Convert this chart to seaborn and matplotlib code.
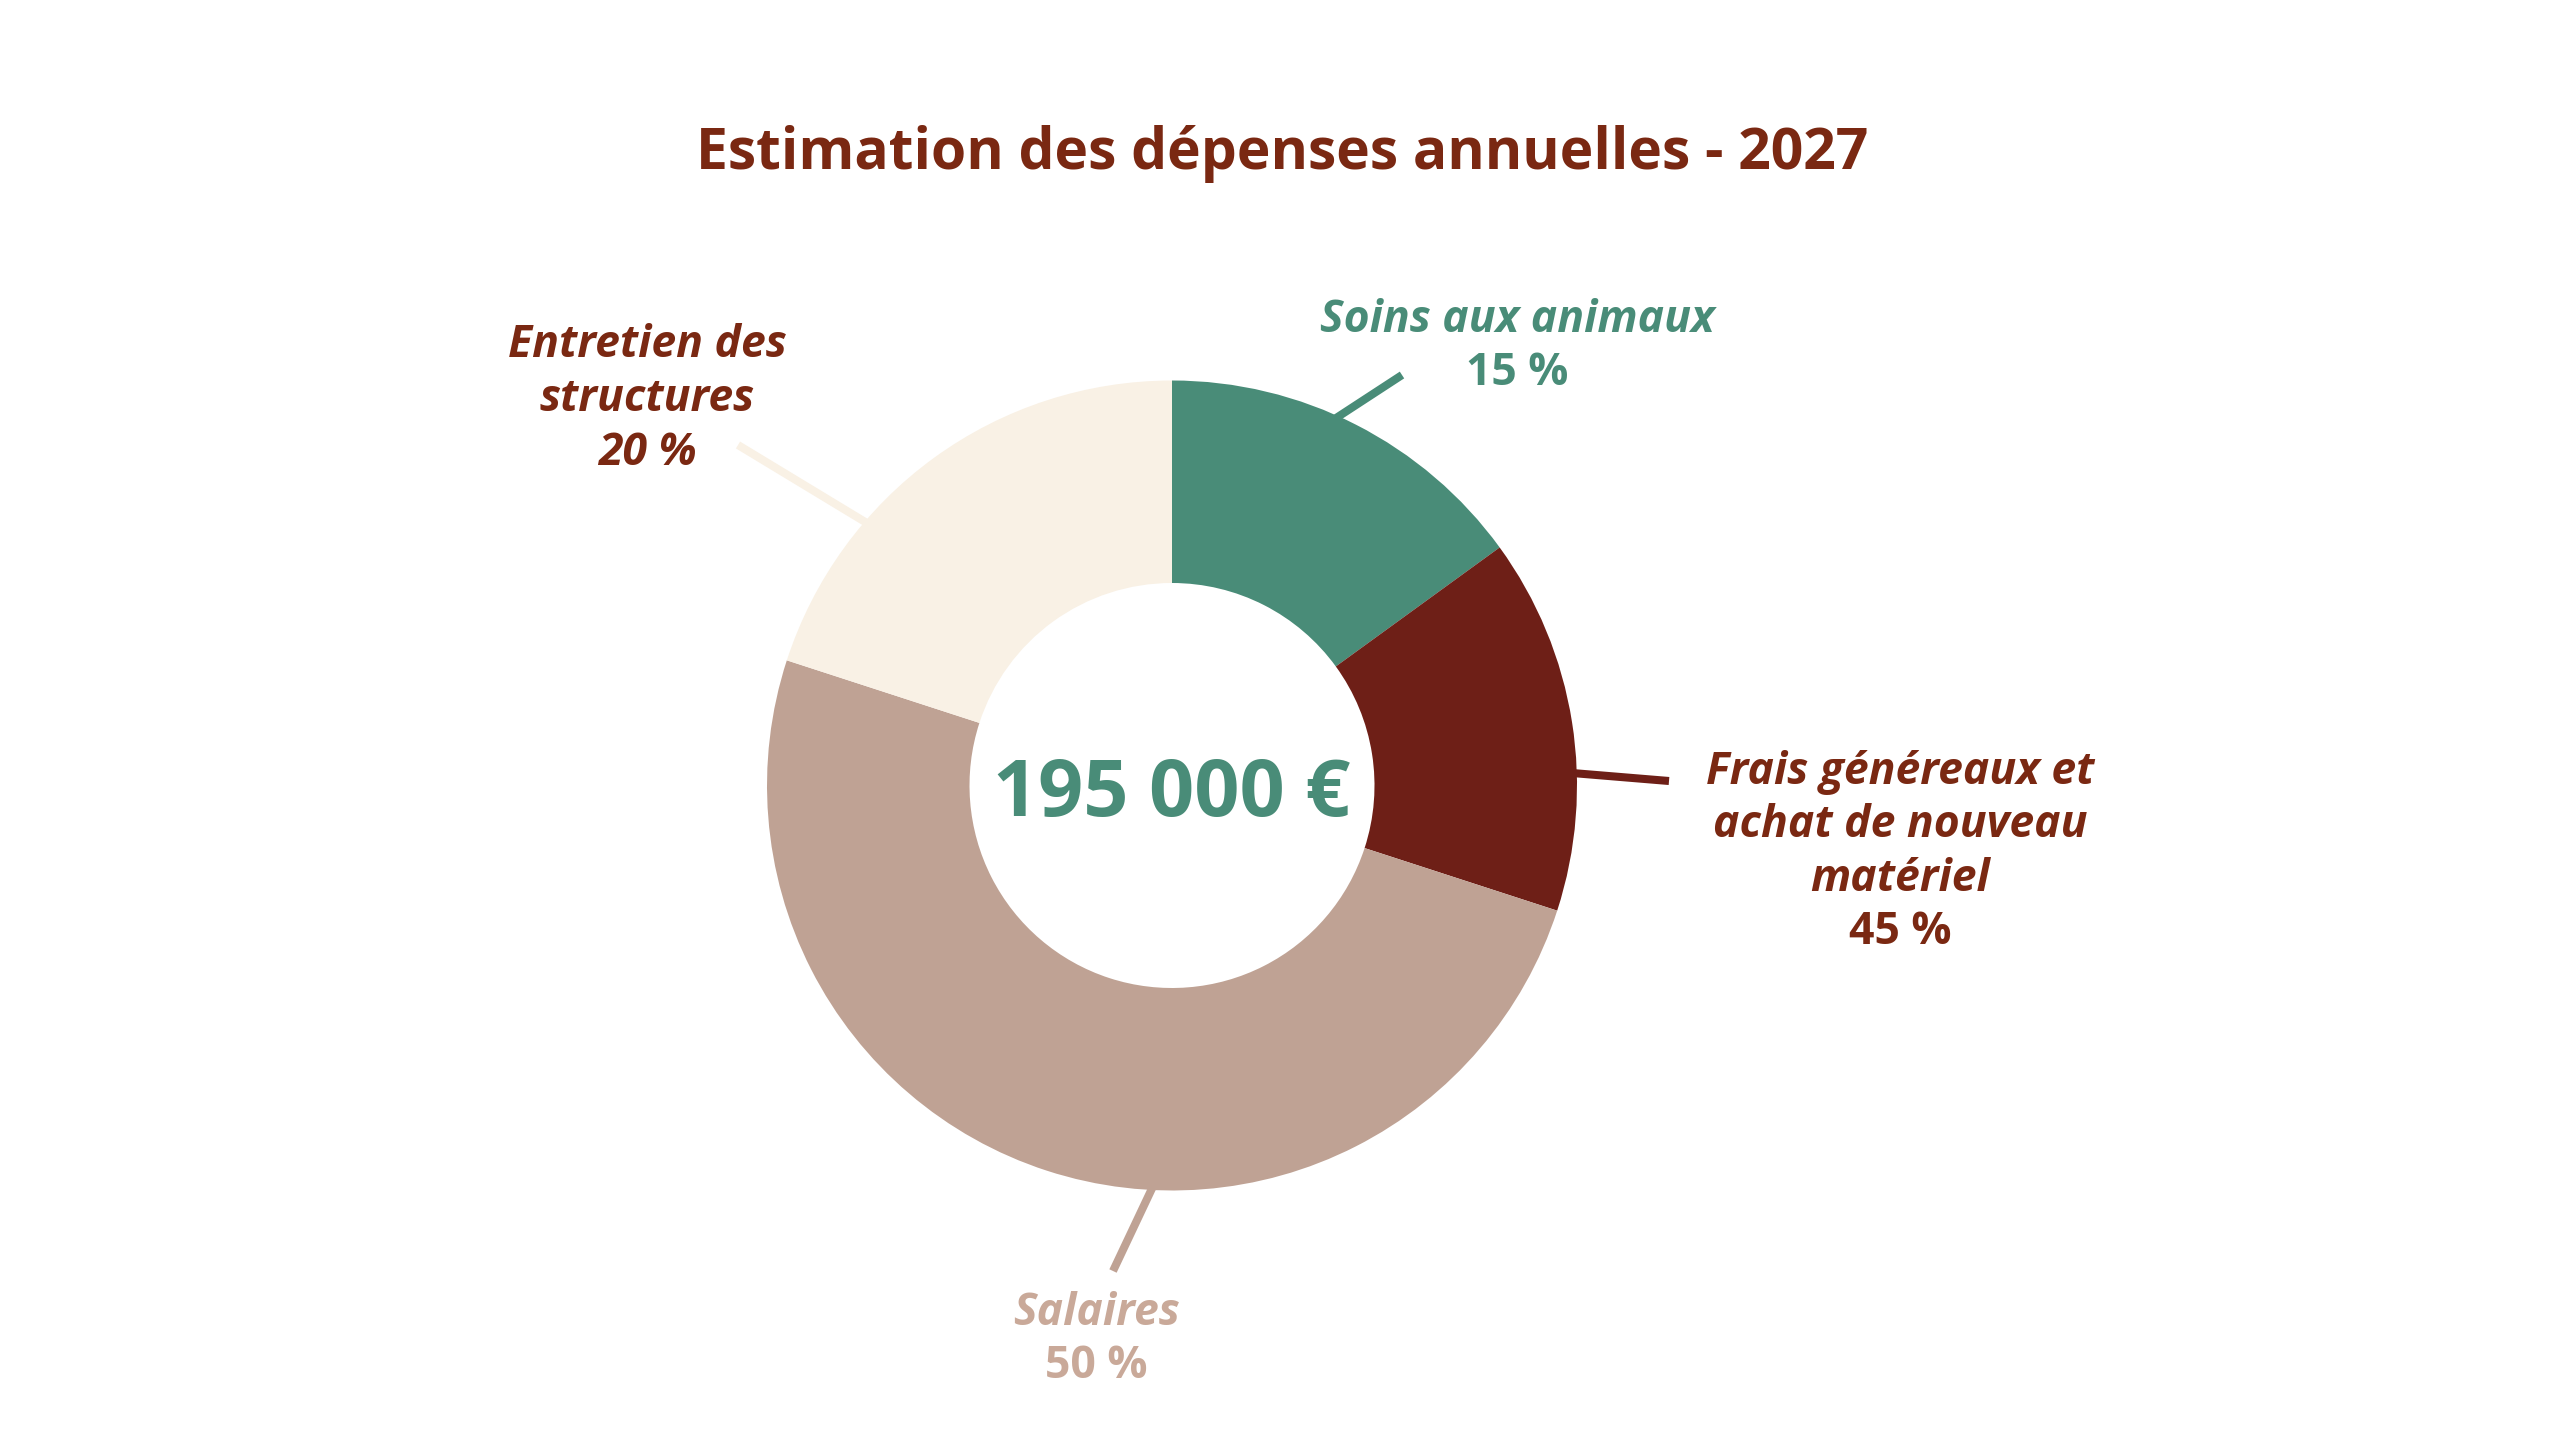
import matplotlib
matplotlib.use("Agg")
import matplotlib.pyplot as plt
import seaborn as sns

# Data (slice sizes as drawn, labels as printed)
categories = ["Soins aux animaux", "Frais généreaux et\nachat de nouveau\nmatériel", "Salaires", "Entretien des\nstructures"]
shares = [15, 15, 50, 20]
pct_labels = ["15 %", "45 %", "50 %", "20 %"]
total_label = "195 000 €"
title = "Estimation des dépenses annuelles - 2027"

slice_colors = ["#498C78", "#6E1F17", "#BFA294", "#F9F1E5"]
text_colors = ["#498C78", "#7A2812", "#C9A999", "#7A2812"]
pct_italic = [False, False, False, True]

W, H = 2560, 1439
CX, CY, R = 1172, 785.5, 405


def px(x, y):
    # pixel coords from top-left -> data coords
    return x, H - y


# label layout: centre x, first baseline y, line step (pixels from top)
label_pos = [(1517, 332, 53.3), (1900, 784, 53.3), (1096, 1325, 53), (647, 357, 54)]
# leader lines: start inside the ring, end near the label
leader = [((1330, 422), (1402, 375)),
          ((1560, 772), (1669, 781)),
          ((1156, 1180), (1113, 1271)),
          ((885, 534), (738, 445))]

sns.set_theme(style="white")
plt.rcParams["font.family"] = ["Open Sans", "DejaVu Sans"]

fig = plt.figure(figsize=(W / 100, H / 100), dpi=100)
ax = fig.add_axes([0, 0, 1, 1])

wedges, _ = ax.pie(shares, colors=slice_colors, startangle=90, counterclock=False,
                   radius=R, center=px(CX, CY),
                   wedgeprops=dict(width=R * 0.5, linewidth=0))
ax.set_xlim(0, W)
ax.set_ylim(0, H)
ax.set_aspect("equal")
ax.axis("off")

for (p0, p1), col in zip(leader, slice_colors):
    x0, y0 = px(*p0)
    x1, y1 = px(*p1)
    ax.plot([x0, x1], [y0, y1], color=col, lw=5.8, solid_capstyle="butt", zorder=1)

for name, pct, (lx, ly, step), col, it in zip(categories, pct_labels, label_pos, text_colors, pct_italic):
    lines = name.split("\n")
    for i, line in enumerate(lines):
        ax.text(*px(lx, ly + i * step), line, ha="center", va="baseline",
                fontsize=32, fontweight="bold", style="italic", color=col)
    ax.text(*px(lx, ly + len(lines) * step), pct, ha="center", va="baseline",
            fontsize=32, fontweight="bold", style="italic" if it else "normal", color=col)

ax.text(*px(CX, 816), total_label, ha="center", va="baseline",
        fontsize=57, fontweight="bold", color="#498C78")

ax.text(*px(1282, 169), title, ha="center", va="baseline",
        fontsize=41, fontweight="bold", color="#7A2812")

fig.savefig("out.png", dpi=100, facecolor="white")
